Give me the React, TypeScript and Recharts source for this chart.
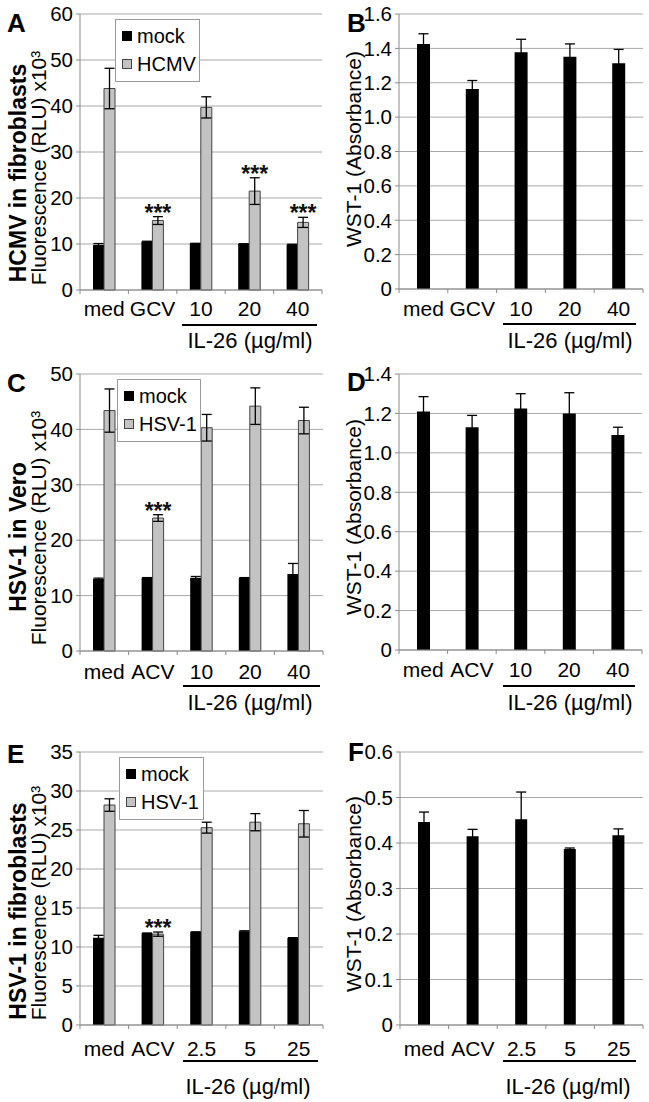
import React from 'react';
import { BarChart, Bar, XAxis, YAxis, CartesianGrid, ErrorBar, Legend, LabelList } from 'recharts';

const FONT = '"Liberation Sans", Arial, Helvetica, sans-serif';

// ---------- Panel A: HCMV in fibroblasts ----------
const catsA = ['med', 'GCV', '10', '20', '40'];
const mockA = [9.8, 10.5, 10.05, 10.0, 9.85];
const mockErrA = [0.3, 0.1, 0.1, 0.05, 0.1];
const hcmvA = [43.8, 15.1, 39.7, 21.5, 14.7];
const hcmvErrA = [4.4, 0.85, 2.3, 2.9, 1.1];
const starsA = [false, true, false, true, true];
const ticksA = [0, 10, 20, 30, 40, 50, 60];

// ---------- Panel B: WST-1 ----------
const catsB = ['med', 'GCV', '10', '20', '40'];
const wstB = [1.425, 1.163, 1.378, 1.351, 1.314];
const wstErrB = [0.06, 0.05, 0.075, 0.075, 0.08];
const ticksB = [0, 0.2, 0.4, 0.6, 0.8, 1.0, 1.2, 1.4, 1.6];

// ---------- Panel C: HSV-1 in Vero ----------
const catsC = ['med', 'ACV', '10', '20', '40'];
const mockC = [13.0, 13.2, 13.2, 13.2, 13.9];
const mockErrC = [0.15, 0.05, 0.25, 0.05, 1.9];
const hsvC = [43.4, 24.0, 40.3, 44.2, 41.6];
const hsvErrC = [3.9, 0.6, 2.4, 3.3, 2.4];
const starsC = [false, true, false, false, false];
const ticksC = [0, 10, 20, 30, 40, 50];

// ---------- Panel D: WST-1 ----------
const catsD = ['med', 'ACV', '10', '20', '40'];
const wstD = [1.21, 1.13, 1.225, 1.2, 1.09];
const wstErrD = [0.075, 0.06, 0.075, 0.105, 0.04];
const ticksD = [0, 0.2, 0.4, 0.6, 0.8, 1.0, 1.2, 1.4];

// ---------- Panel E: HSV-1 in fibroblasts ----------
const catsE = ['med', 'ACV', '2.5', '5', '25'];
const mockE = [11.2, 11.75, 11.9, 12.0, 11.15];
const mockErrE = [0.3, 0.05, 0.05, 0.08, 0.05];
const hsvE = [28.2, 11.65, 25.3, 26.0, 25.8];
const hsvErrE = [0.8, 0.27, 0.7, 1.1, 1.7];
const starsE = [false, true, false, false, false];
const ticksE = [0, 5, 10, 15, 20, 25, 30, 35];

// ---------- Panel F: WST-1 ----------
const catsF = ['med', 'ACV', '2.5', '5', '25'];
const wstF = [0.446, 0.415, 0.452, 0.387, 0.417];
const wstErrF = [0.022, 0.015, 0.06, 0.002, 0.014];
const ticksF = [0, 0.1, 0.2, 0.3, 0.4, 0.5, 0.6];

const GRID = '#a8a8a8';
const AXIS = '#8a8a8a';
const GRAY = '#c3c3c3';

const fmtDec = (v: number) => (v === 0 ? '0' : v.toFixed(1));
const fmtInt = (v: number) => String(v);

function makeXTick(bw: number, n: number, tickSize: number, tickMargin: number) {
  return (props: any) => {
    const { x, y, payload, index } = props;
    const axisY = y - tickSize - tickMargin;
    return (
      <g>
        <line x1={x - bw / 2} x2={x - bw / 2} y1={axisY} y2={axisY + tickSize} stroke={AXIS} />
        {index === n - 1 ? (
          <line x1={x + bw / 2} x2={x + bw / 2} y1={axisY} y2={axisY + tickSize} stroke={AXIS} />
        ) : null}
        <text x={x} y={y} dy="0.71em" textAnchor="middle" fontSize={21} fill="#000" fontFamily={FONT}>
          {payload.value}
        </text>
      </g>
    );
  };
}

function makeStars(stars: boolean[], errs: number[]) {
  return (props: any) => {
    const vb = props.viewBox && props.viewBox.height !== undefined ? props.viewBox : props;
    const { x, y, width, height } = vb;
    const index = props.index;
    const value = Number(props.value);
    if (index === undefined || !stars[index] || !value) return null;
    const pxPerUnit = height / value;
    const errTop = y - errs[index] * pxPerUnit;
    return (
      <text x={x + width / 2} y={errTop + 4} textAnchor="middle" fontSize={23} fontWeight="bold" fill="#111" fontFamily={FONT}>
        ***
      </text>
    );
  };
}

const LEGEND_ORDER = ['mock', 'virus'];

function LegendBox(props: any) {
  const payload = [...(props.payload || [])].sort(
    (a: any, b: any) => LEGEND_ORDER.indexOf(String(a.dataKey)) - LEGEND_ORDER.indexOf(String(b.dataKey)),
  );
  return (
    <div
      style={{
        border: '1px solid #9a9a9a',
        background: '#fff',
        padding: '2px 0 3px 6px',
        fontFamily: FONT,
        fontSize: 20,
        color: '#000',
        boxSizing: 'border-box',
        whiteSpace: 'nowrap',
      }}
    >
      {payload.map((e: any, i: number) => {
        const isMock = String(e.dataKey) === 'mock';
        return (
          <div key={i} style={{ display: 'flex', alignItems: 'center', height: 28, lineHeight: '28px', whiteSpace: 'nowrap' }}>
            <span
              style={{
                display: 'inline-block',
                flex: '0 0 10px',
                width: 10,
                height: 10,
                background: isMock ? '#000' : GRAY,
                border: isMock ? '1px solid #000' : '1px solid #444',
                boxSizing: 'border-box',
                marginRight: 5,
              }}
            />
            <span style={{ whiteSpace: 'nowrap' }}>{e.value}</span>
          </div>
        );
      })}
    </div>
  );
}

type VirusProps = {
  left: number; top: number; width: number; height: number; marginTop: number; yWidth: number;
  cats: string[]; mock: number[]; mockErr: number[]; virus: number[]; virusErr: number[]; stars: boolean[];
  ticks: number[]; virusName: string; legendLeft: number; legendTop: number; legendWidth: number; xMargin: number;
};

function VirusPanel(p: VirusProps) {
  const data = p.cats.map((c, i) => ({
    cat: c, mock: p.mock[i], mockErr: p.mockErr[i], virus: p.virus[i], virusErr: p.virusErr[i],
  }));
  const plotW = p.width - p.yWidth - 2;
  const bw = plotW / p.cats.length;
  return (
    <div style={{ position: 'absolute', left: p.left, top: p.top }}>
      <BarChart
        width={p.width}
        height={p.height}
        data={data}
        margin={{ top: p.marginTop, right: 2, left: 0, bottom: 0 }}
        barGap={0}
        style={{ fontFamily: FONT }}
      >
        <CartesianGrid vertical={false} stroke={GRID} />
        <XAxis
          dataKey="cat"
          interval={0}
          height={40}
          tickLine={false}
          tickSize={4}
          tickMargin={p.xMargin}
          axisLine={{ stroke: AXIS }}
          tick={makeXTick(bw, p.cats.length, 4, p.xMargin)}
        />
        <YAxis
          type="number"
          domain={[0, p.ticks[p.ticks.length - 1]]}
          ticks={p.ticks}
          interval={0}
          width={p.yWidth}
          tickSize={4}
          tickMargin={3}
          tickFormatter={fmtInt}
          axisLine={{ stroke: AXIS }}
          tickLine={{ stroke: AXIS }}
          tick={{ fontSize: 20.5, fill: '#000', fontFamily: FONT }}
        />
        <Legend
          layout="horizontal"
          verticalAlign="middle"
          align="center"
          content={<LegendBox />}
          wrapperStyle={{ left: p.legendLeft, top: p.legendTop, width: p.legendWidth }}
        />
        <Bar dataKey="mock" name="mock" fill="#000" barSize={11} isAnimationActive={false}>
          <ErrorBar dataKey="mockErr" width={5} stroke="#000" strokeWidth={1.3} isAnimationActive={false} />
        </Bar>
        <Bar dataKey="virus" name={p.virusName} fill={GRAY} stroke="#444" strokeWidth={1} barSize={11} isAnimationActive={false}>
          <ErrorBar dataKey="virusErr" width={5} stroke="#000" strokeWidth={1.3} isAnimationActive={false} />
          <LabelList dataKey="virus" content={makeStars(p.stars, p.virusErr)} />
        </Bar>
      </BarChart>
    </div>
  );
}

type WstProps = {
  left: number; top: number; width: number; height: number; marginTop: number; yWidth: number;
  cats: string[]; vals: number[]; errs: number[]; ticks: number[]; barSize: number; xMargin: number;
};

function WstPanel(p: WstProps) {
  const data = p.cats.map((c, i) => ({ cat: c, wst: p.vals[i], wstErr: p.errs[i] }));
  const plotW = p.width - p.yWidth - 2;
  const bw = plotW / p.cats.length;
  return (
    <div style={{ position: 'absolute', left: p.left, top: p.top }}>
      <BarChart
        width={p.width}
        height={p.height}
        data={data}
        margin={{ top: p.marginTop, right: 2, left: 0, bottom: 0 }}
        style={{ fontFamily: FONT }}
      >
        <CartesianGrid vertical={false} stroke={GRID} />
        <XAxis
          dataKey="cat"
          interval={0}
          height={40}
          tickLine={false}
          tickSize={4}
          tickMargin={p.xMargin}
          axisLine={{ stroke: AXIS }}
          tick={makeXTick(bw, p.cats.length, 4, p.xMargin)}
        />
        <YAxis
          type="number"
          domain={[0, p.ticks[p.ticks.length - 1]]}
          ticks={p.ticks}
          interval={0}
          width={p.yWidth}
          tickSize={4}
          tickMargin={3}
          tickFormatter={fmtDec}
          axisLine={{ stroke: AXIS }}
          tickLine={{ stroke: AXIS }}
          tick={{ fontSize: 20.5, fill: '#000', fontFamily: FONT }}
        />
        <Bar dataKey="wst" name="WST-1" fill="#000" barSize={p.barSize} isAnimationActive={false}>
          <ErrorBar dataKey="wstErr" width={5} stroke="#000" strokeWidth={1.3} isAnimationActive={false} />
        </Bar>
      </BarChart>
    </div>
  );
}

function VText({ cx, cy, text, size, bold }: { cx: number; cy: number; text: string; size: number; bold?: boolean }) {
  return (
    <text
      x={cx}
      y={cy}
      transform={`rotate(-90 ${cx} ${cy})`}
      textAnchor="middle"
      dominantBaseline="central"
      fontSize={size}
      fontWeight={bold ? 'bold' : 'normal'}
      fontFamily={FONT}
      fill="#000"
    >
      {text}
    </text>
  );
}

const IL26 = 'IL-26 (µg/ml)';

export default function App() {
  return (
    <div style={{ position: 'absolute', left: 0, top: 0, width: 649, height: 1102, background: '#fff', overflow: 'hidden' }}>
      <VirusPanel left={0} top={0} width={324} height={330} marginTop={14} yWidth={80}
        cats={catsA} mock={mockA} mockErr={mockErrA} virus={hcmvA} virusErr={hcmvErrA} stars={starsA}
        ticks={ticksA} virusName="HCMV" legendLeft={115} legendTop={19} legendWidth={85} xMargin={7} />
      <WstPanel left={320} top={0} width={325} height={329} marginTop={14} yWidth={79}
        cats={catsB} vals={wstB} errs={wstErrB} ticks={ticksB} barSize={13} xMargin={8} />
      <VirusPanel left={0} top={360} width={325} height={331} marginTop={14} yWidth={80}
        cats={catsC} mock={mockC} mockErr={mockErrC} virus={hsvC} virusErr={hsvErrC} stars={starsC}
        ticks={ticksC} virusName="HSV-1" legendLeft={117} legendTop={19} legendWidth={84} xMargin={9} />
      <WstPanel left={320} top={360} width={324} height={330} marginTop={14} yWidth={79}
        cats={catsD} vals={wstD} errs={wstErrD} ticks={ticksD} barSize={13} xMargin={8} />
      <VirusPanel left={0} top={730} width={325} height={335} marginTop={22} yWidth={80}
        cats={catsE} mock={mockE} mockErr={mockErrE} virus={hsvE} virusErr={hsvErrE} stars={starsE}
        ticks={ticksE} virusName="HSV-1" legendLeft={119} legendTop={27} legendWidth={85} xMargin={12} />
      <WstPanel left={320} top={730} width={325} height={335} marginTop={22} yWidth={80}
        cats={catsF} vals={wstF} errs={wstErrF} ticks={ticksF} barSize={12} xMargin={12} />

      <svg width={649} height={1102} style={{ position: 'absolute', left: 0, top: 0, pointerEvents: 'none' }}>
        <g fontFamily={FONT} fontWeight="bold" fontSize={26} fill="#000">
          <text x={7} y={32}>A</text>
          <text x={347} y={32}>B</text>
          <text x={7} y={392}>C</text>
          <text x={347} y={391}>D</text>
          <text x={7} y={763}>E</text>
          <text x={348} y={761}>F</text>
        </g>
        <VText cx={18} cy={173} text="HCMV in fibroblasts" size={23} bold />
        <VText cx={38} cy={168} text="Fluorescence (RLU) x10³" size={21} />
        <VText cx={353} cy={149} text="WST-1 (Absorbance)" size={21} />
        <VText cx={18} cy={537} text="HSV-1 in Vero" size={23} bold />
        <VText cx={38} cy={528} text="Fluorescence (RLU) x10³" size={21} />
        <VText cx={353} cy={517} text="WST-1 (Absorbance)" size={21} />
        <VText cx={18} cy={911} text="HSV-1 in fibroblasts" size={23} bold />
        <VText cx={38} cy={903} text="Fluorescence (RLU) x10³" size={21} />
        <VText cx={353} cy={894} text="WST-1 (Absorbance)" size={21} />
        <g stroke="#000" strokeWidth={2}>
          <line x1={182} x2={317} y1={325} y2={325} />
          <line x1={503} x2={636} y1={324} y2={324} />
          <line x1={183} x2={320} y1={686} y2={686} />
          <line x1={503} x2={635} y1={686} y2={686} />
          <line x1={183} x2={318} y1={1061} y2={1061} />
          <line x1={503} x2={636} y1={1061} y2={1061} />
        </g>
        <g fontFamily={FONT} fontSize={22} fill="#000" textAnchor="middle">
          <text x={250} y={348}>{IL26}</text>
          <text x={570} y={348}>{IL26}</text>
          <text x={250} y={710}>{IL26}</text>
          <text x={570} y={710}>{IL26}</text>
          <text x={248} y={1094}>{IL26}</text>
          <text x={568} y={1094}>{IL26}</text>
        </g>
      </svg>
    </div>
  );
}
